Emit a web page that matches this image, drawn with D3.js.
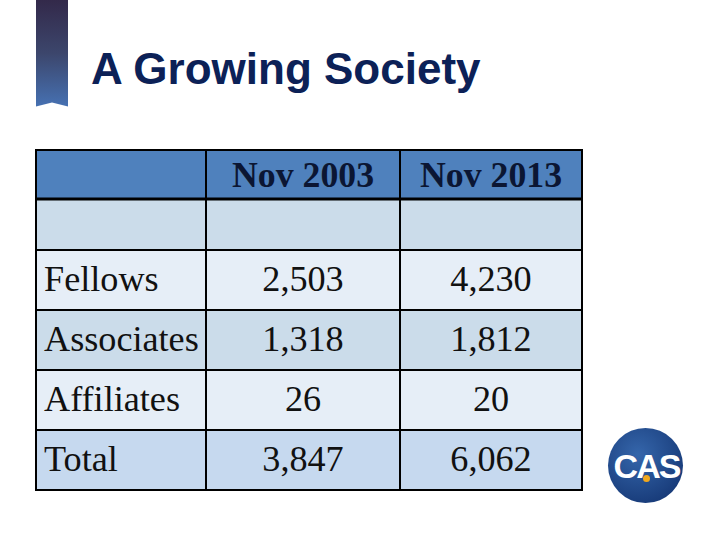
<!DOCTYPE html>
<html>
<head>
<meta charset="utf-8">
<script src="https://cdn.jsdelivr.net/npm/d3@7"></script>
<style>
  html, body { margin: 0; padding: 0; background: #ffffff; }
  svg { display: block; }
</style>
</head>
<body>
<div id="chart"></div>
<script>
// ---- data ----
const title = "A Growing Society";
const columns = ["Nov 2003", "Nov 2013"];
const categories = ["Fellows", "Associates", "Affiliates", "Total"];
const values2003 = [2503, 1318, 26, 3847];
const values2013 = [4230, 1812, 20, 6062];

const rows = categories.map((c, i) => ({ category: c, v2003: values2003[i], v2013: values2013[i] }));

const W = 720, H = 540;
const svg = d3.select("#chart").append("svg").attr("width", W).attr("height", H);
const defs = svg.append("defs");

// ribbon gradient
const rg = defs.append("linearGradient").attr("id", "ribbon").attr("x1", 0).attr("y1", 0).attr("x2", 0).attr("y2", 1);
rg.append("stop").attr("offset", "0%").attr("stop-color", "#33294a");
rg.append("stop").attr("offset", "50%").attr("stop-color", "#3c466c");
rg.append("stop").attr("offset", "100%").attr("stop-color", "#4671b2");

// ribbon
svg.append("path")
  .attr("d", "M36,0 L68,0 L68,106.5 L52,102.5 L36,106.5 Z")
  .attr("fill", "url(#ribbon)");

// title
svg.append("text")
  .attr("x", 91).attr("y", 83.5)
  .attr("font-family", "Liberation Sans, Arial, sans-serif")
  .attr("font-weight", "bold")
  .attr("font-size", 44)
  .attr("fill", "#0c2157")
  .text(title);

// ---- table layout via scales ----
const colKeys = ["label", "v2003", "v2013"];
const colLeft = d3.scaleOrdinal().domain(colKeys).range([36, 206, 400]);
const colRight = d3.scaleOrdinal().domain(colKeys).range([206, 400, 582]);
const y = d3.scaleBand().domain(categories).range([250, 490]).paddingInner(0).paddingOuter(0);
const headerTop = 150, headerBottom = 199, blankBottom = 250;

const rowFill = d3.scaleOrdinal().domain(categories).range(["#e6eef7", "#cbdcea", "#e6eef7", "#c6d9ef"]);
const fmt = d3.format(",");

const table = svg.append("g");

// header row
table.append("rect")
  .attr("x", colLeft("label")).attr("y", headerTop)
  .attr("width", colRight("v2013") - colLeft("label")).attr("height", headerBottom - headerTop)
  .attr("fill", "#4f81bd");
// blank row
table.append("rect")
  .attr("x", colLeft("label")).attr("y", headerBottom)
  .attr("width", colRight("v2013") - colLeft("label")).attr("height", blankBottom - headerBottom)
  .attr("fill", "#cbdcea");

// data rows
table.selectAll("rect.row").data(rows).join("rect")
  .attr("class", "row")
  .attr("x", colLeft("label")).attr("y", d => y(d.category))
  .attr("width", colRight("v2013") - colLeft("label")).attr("height", y.bandwidth())
  .attr("fill", d => rowFill(d.category));

// header texts
table.selectAll("text.hdr").data(columns).join("text")
  .attr("class", "hdr")
  .attr("x", (d, i) => (colLeft(colKeys[i + 1]) + colRight(colKeys[i + 1])) / 2)
  .attr("y", (headerTop + headerBottom) / 2 + 12)
  .attr("text-anchor", "middle")
  .attr("font-family", "Liberation Serif, Times New Roman, serif")
  .attr("font-weight", "bold")
  .attr("font-size", 35.8)
  .attr("fill", "#0b1633")
  .text(d => d);

// body texts
const fontBody = "Liberation Serif, Times New Roman, serif";
const bodySize = 36.2;
const rowG = table.selectAll("g.r").data(rows).join("g").attr("class", "r");
rowG.append("text")
  .attr("x", colLeft("label") + 8)
  .attr("y", d => y(d.category) + y.bandwidth() / 2 + 11)
  .attr("font-family", fontBody).attr("font-size", bodySize).attr("fill", "#111111")
  .text(d => d.category);
["v2003", "v2013"].forEach(k => {
  rowG.append("text")
    .attr("x", (colLeft(k) + colRight(k)) / 2)
    .attr("y", d => y(d.category) + y.bandwidth() / 2 + 11)
    .attr("text-anchor", "middle")
    .attr("font-family", fontBody).attr("font-size", bodySize).attr("fill", "#111111")
    .text(d => fmt(d[k]));
});

// grid lines
const left = colLeft("label"), right = colRight("v2013");
const hLines = [headerTop, blankBottom].concat(categories.map(c => y(c) + y.bandwidth()));
table.selectAll("line.h").data(hLines).join("line")
  .attr("class", "h")
  .attr("x1", left - 1).attr("x2", right + 1)
  .attr("y1", d => d).attr("y2", d => d)
  .attr("stroke", "#000").attr("stroke-width", 2);
table.append("line")
  .attr("x1", left - 1).attr("x2", right + 1)
  .attr("y1", headerBottom).attr("y2", headerBottom)
  .attr("stroke", "#000").attr("stroke-width", 3);
const vLines = [left, colLeft("v2003"), colLeft("v2013"), right];
table.selectAll("line.v").data(vLines).join("line")
  .attr("class", "v")
  .attr("x1", d => d).attr("x2", d => d)
  .attr("y1", headerTop).attr("y2", y.range()[1])
  .attr("stroke", "#000").attr("stroke-width", 2);

// ---- CAS logo ----
const lg = defs.append("radialGradient").attr("id", "logo").attr("cx", "40%").attr("cy", "35%").attr("r", "70%");
lg.append("stop").attr("offset", "0%").attr("stop-color", "#3566ab");
lg.append("stop").attr("offset", "100%").attr("stop-color", "#173a78");
const logo = svg.append("g").attr("transform", "translate(645.5,465.5)");
logo.append("circle").attr("r", 37.5).attr("fill", "url(#logo)");
logo.append("text")
  .attr("x", 1).attr("y", 12)
  .attr("text-anchor", "middle")
  .attr("font-family", "Liberation Sans, Arial, sans-serif")
  .attr("font-weight", "bold")
  .attr("font-size", 34)
  .attr("letter-spacing", -2)
  .attr("fill", "#ffffff")
  .text("CAS");
logo.append("circle").attr("cx", 1).attr("cy", 13).attr("r", 3.5).attr("fill", "#f2a81d");
</script>
</body>
</html>
